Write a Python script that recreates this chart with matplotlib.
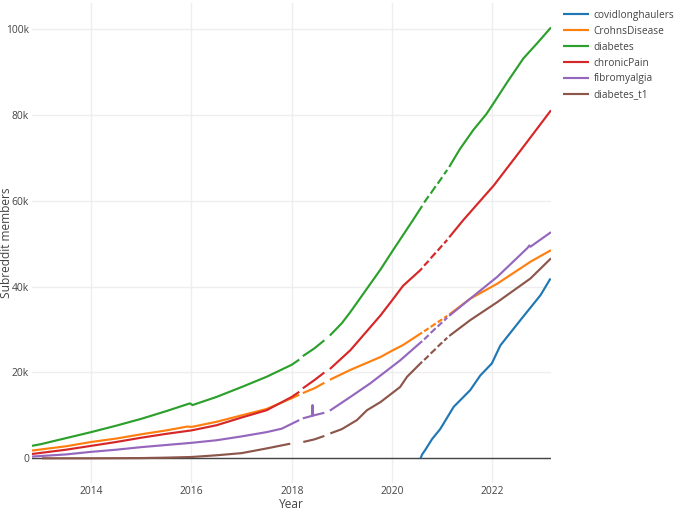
import matplotlib
matplotlib.use("Agg")
import matplotlib.pyplot as plt
import numpy as np
from matplotlib.ticker import FuncFormatter

# ---------------- data (members in thousands; None = missing data) ----------------
series_names = ["covidlonghaulers", "CrohnsDisease", "diabetes", "chronicPain",
                "fibromyalgia", "diabetes_t1"]
series_colors = ["#1f77b4", "#ff7f0e", "#2ca02c", "#d62728", "#9467bd", "#8c564b"]

covid_x = [2020.57, 2020.6, 2020.66, 2020.8, 2020.96, 2021.1, 2021.23, 2021.4, 2021.56,
           2021.76, 2021.99, 2022.16, 2022.56, 2022.96, 2023.16]
covid_y = [0, 0.9, 1.9, 4.5, 6.8, 9.5, 12.0, 14.0, 15.9, 19.3, 22.1, 26.3, 32.2, 38.0, 41.9]

crohns_x = [2012.82, 2013.5, 2014.0, 2014.5, 2015.0, 2015.5, 2015.92, 2016.0, 2016.5, 2017.0,
            2017.5, 2018.0, 2018.15, None, 2018.22, 2018.45, 2018.65, None, 2018.76, 2019.17,
            2019.57, 2019.77, 2020.02, 2020.22, 2020.60, None, 2020.64, 2020.73, None,
            2020.77, 2020.87, None, 2020.91, 2021.00, None, 2021.04, 2021.10, None, 2021.14,
            2021.56, 2022.1, 2022.76, 2023.17]
crohns_y = [1.8, 2.8, 3.8, 4.6, 5.6, 6.5, 7.4, 7.3, 8.5, 10.0,
            11.5, 14.0, 14.8, None, 15.2, 16.3, 17.6, None, 18.3, 20.6,
            22.6, 23.6, 25.2, 26.4, 29.3, None, 29.6, 30.3, None,
            30.6, 31.4, None, 31.7, 32.4, None, 32.7, 33.2, None, 33.5,
            37.2, 40.7, 45.8, 48.5]

diabetes_x = [2012.82, 2013.0, 2013.5, 2014.0, 2014.5, 2015.0, 2015.5, 2015.97, 2016.02, 2016.5,
              2017.0, 2017.5, 2018.0, 2018.15, None, 2018.22, 2018.45, 2018.65, None, 2018.76,
              2019.0, 2019.17, 2019.57, 2019.77, 2020.02, 2020.4, 2020.60, None, 2020.64,
              2020.73, None, 2020.77, 2020.87, None, 2020.91, 2021.00, None, 2021.04, 2021.10,
              None, 2021.14, 2021.35, 2021.62, 2021.88, 2022.0, 2022.3, 2022.62, 2022.9, 2023.17]
diabetes_y = [2.9, 3.3, 4.7, 6.1, 7.6, 9.2, 11.0, 12.8, 12.4, 14.3,
              16.6, 19.0, 21.8, 23.0, None, 23.8, 25.6, 27.5, None, 28.6,
              31.5, 34.1, 40.7, 44.0, 48.5, 55.2, 58.8, None, 59.6,
              61.1, None, 61.7, 63.4, None, 64.0, 65.5, None, 66.2, 67.2,
              None, 67.9, 72.0, 76.5, 80.2, 82.3, 87.7, 93.2, 96.8, 100.4]

pain_x = [2012.82, 2013.5, 2014.0, 2014.5, 2015.0, 2015.5, 2016.0, 2016.5, 2017.0, 2017.5,
          2018.0, 2018.15, None, 2018.22, 2018.45, 2018.65, None, 2018.76, 2019.17, 2019.57,
          2019.77, 2020.02, 2020.22, 2020.56, 2020.60, None, 2020.64, 2020.73, None, 2020.77,
          2020.87, None, 2020.91, 2021.00, None, 2021.04, 2021.10, None, 2021.14, 2021.42,
          2022.03, 2022.62, 2023.17]
pain_y = [1.0, 2.0, 2.9, 3.8, 4.8, 5.7, 6.5, 7.7, 9.5, 11.2,
          14.3, 15.5, None, 16.3, 18.2, 20.0, None, 20.8, 25.2, 30.6,
          33.3, 37.1, 40.2, 43.8, 44.3, None, 44.9, 46.0, None, 46.6,
          47.9, None, 48.4, 49.6, None, 50.1, 50.9, None, 51.5, 55.5,
          63.6, 72.6, 81.1]

fibro_x = [2012.82, 2013.5, 2014.0, 2014.5, 2015.0, 2015.5, 2016.0, 2016.5, 2017.0, 2017.5,
           2017.8, 2018.15, None, 2018.22, 2018.41, 2018.415, 2018.42, 2018.65, None, 2018.76,
           2019.17, 2019.57, 2019.77, 2020.16, 2020.60, None, 2020.64, 2020.73, None, 2020.77,
           2020.87, None, 2020.91, 2021.00, None, 2021.04, 2021.10, None, 2021.14, 2021.56,
           2022.1, 2022.7, 2022.74, 2022.76, 2023.17]
fibro_y = [0.4, 0.9, 1.5, 2.0, 2.6, 3.1, 3.6, 4.2, 5.1, 6.1,
           6.9, 8.9, None, 9.3, 9.9, 12.4, 9.95, 10.6, None, 11.1,
           14.3, 17.5, 19.3, 22.8, 27.3, None, 27.7, 28.7, None, 29.2,
           30.3, None, 30.7, 31.7, None, 32.1, 32.8, None, 33.2, 37.2,
           42.3, 49.0, 49.6, 49.3, 52.7]

t1_x = [2013.02, 2014.0, 2015.0, 2015.5, 2016.0, 2016.5, 2017.0, 2017.5, 2017.97, None,
        2018.23, 2018.45, 2018.65, None, 2018.77, 2019.0, 2019.3, 2019.5, 2019.77, 2020.16,
        2020.3, 2020.60, None, 2020.64, 2020.73, None, 2020.77, 2020.87, None, 2020.91,
        2021.00, None, 2021.04, 2021.10, None, 2021.14, 2021.56, 2022.1, 2022.76, 2023.17]
t1_y = [0, 0, 0.05, 0.15, 0.3, 0.7, 1.2, 2.3, 3.4, None,
        3.8, 4.4, 5.2, None, 5.8, 6.8, 8.9, 11.2, 13.1, 16.6,
        19.0, 22.5, None, 22.9, 23.9, None, 24.4, 25.5, None, 26.0,
        27.0, None, 27.4, 28.1, None, 28.5, 32.2, 36.4, 41.9, 46.6]

x_ticks = [2014, 2016, 2018, 2020, 2022]
y_ticks = [0, 20000, 40000, 60000, 80000, 100000]

series_x = [covid_x, crohns_x, diabetes_x, pain_x, fibro_x, t1_x]
series_y = [covid_y, crohns_y, diabetes_y, pain_y, fibro_y, t1_y]

# ---------------- figure ----------------
plt.rcParams["font.family"] = ["Open Sans", "DejaVu Sans"]
TXT = "#444444"

fig = plt.figure(figsize=(6.8, 5.12), dpi=100)
ax = fig.add_axes([32 / 680, 1 - 483 / 512, (551 - 32) / 680, (483 - 3) / 512])

for name, col, xs, ys in zip(series_names, series_colors, series_x, series_y):
    xa = np.array(xs, dtype=float)
    ya = np.array(ys, dtype=float) * 1000
    ax.plot(xa, ya, color=col, lw=1.55, label=name, solid_capstyle="butt",
            solid_joinstyle="round", zorder=3)

ax.axhline(0, color=TXT, lw=1.0, zorder=2)

ax.set_xlim(2012.82, 2023.17)
ax.set_ylim(-5760, 106100)
ax.set_xticks(x_ticks)
ax.set_yticks(y_ticks)
ax.yaxis.set_major_formatter(FuncFormatter(lambda v, p: "0" if v == 0 else f"{int(v/1000)}k"))
ax.grid(True, color="#eeeeee", lw=1.0, zorder=0)
ax.set_axisbelow(True)
for s in ax.spines.values():
    s.set_visible(False)
ax.tick_params(axis="both", length=0, labelsize=7.4, labelcolor=TXT)
ax.tick_params(axis="x", pad=2)
ax.tick_params(axis="y", pad=2)

ax.set_xlabel("Year", fontsize=8.6, color=TXT, labelpad=0.6)
ax.set_ylabel("Subreddit members", fontsize=8.6, color=TXT)
ax.yaxis.set_label_coords((13 - 32) / 519, 0.5)

leg = fig.legend(loc="upper left", bbox_to_anchor=(563 / 680, 1 - 10 / 512),
                 frameon=False, fontsize=7.3, handlelength=2.6, handletextpad=0.4,
                 labelspacing=0.48, borderaxespad=0, borderpad=0)
for t in leg.get_texts():
    t.set_color(TXT)
for l in leg.get_lines():
    l.set_linewidth(1.55)

fig.savefig("out.png", dpi=100)
